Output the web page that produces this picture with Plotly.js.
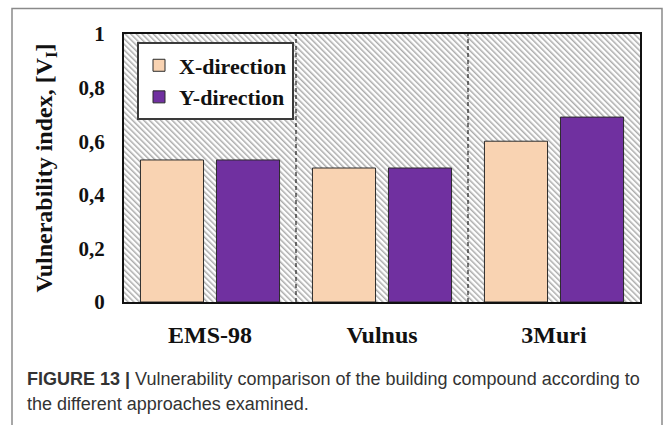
<!DOCTYPE html>
<html>
<head>
<meta charset="utf-8">
<script src="https://cdn.plot.ly/plotly-3.0.1.min.js"></script>
<style>
html,body{margin:0;padding:0;background:#fff;}
#chart{width:667px;height:425px;}
</style>
</head>
<body>
<div id="chart"></div>
<script>
// ---- data ----
const categories = ["EMS-98", "Vulnus", "3Muri"];
const xDirection = [0.53, 0.50, 0.60];
const yDirection = [0.53, 0.50, 0.69];
const seriesNames = ["X-direction", "Y-direction"];
const yTickVals = [0, 0.2, 0.4, 0.6, 0.8, 1];
const yTickText = ["0", "0,2", "0,4", "0,6", "0,8", "1"];
const yTitle = "Vulnerability index, [V<sub>I</sub>]";
const captionBold = "FIGURE 13 |";
const captionLine1 = " Vulnerability comparison of the building compound according to";
const captionLine2 = "the different approaches examined.";

// ---- layout geometry ----
const W = 667, H = 425;
const plotL = 124, plotR = 640, plotT = 33.5, plotB = 302.5;
const pw = plotR - plotL, ph = plotB - plotT;
const px = v => (v - plotL) / pw;
const py = v => (plotB - v) / ph;

// hatched background as inline SVG
const hatchSvg =
  '<svg xmlns="http://www.w3.org/2000/svg" width="' + pw + '" height="' + ph + '">' +
  '<defs><pattern id="h" width="4" height="4" patternUnits="userSpaceOnUse" patternTransform="rotate(-45)">' +
  '<rect width="4" height="4" fill="#ffffff"/>' +
  '<rect width="1.5" height="4" fill="#acacac"/></pattern></defs>' +
  '<rect width="100%" height="100%" fill="url(#h)"/></svg>';
const hatchUri = "data:image/svg+xml;base64," + btoa(hatchSvg);

const serif = "Liberation Serif, Times New Roman, serif";
const sans = "Liberation Sans, Arial, sans-serif";

const traces = [
  {
    type: "bar", name: seriesNames[0], x: categories, y: xDirection,
    legendgroup: "a",
    marker: {color: "#f9d3b2", line: {color: "#2a2a2a", width: 1}}
  },
  {
    type: "bar", name: seriesNames[1], x: categories, y: yDirection,
    legendgroup: "b",
    marker: {color: "#7030a0", line: {color: "#2a2a2a", width: 1}}
  }
];

const layout = {
  width: W, height: H,
  margin: {l: plotL, r: W - plotR, t: plotT, b: H - plotB, pad: 0},
  paper_bgcolor: "#ffffff",
  plot_bgcolor: "rgba(0,0,0,0)",
  barmode: "group",
  bargap: 0.116,
  bargroupgap: 0.17,
  showlegend: true,
  legend: {
    x: px(137), y: py(42), xanchor: "left", yanchor: "top",
    bgcolor: "#ffffff", bordercolor: "#3a3a3a", borderwidth: 2,
    font: {family: serif, size: 22, color: "#111", weight: "bold"},
    traceorder: "grouped", tracegroupgap: 0, itemwidth: 30
  },
  xaxis: {
    type: "category",
    range: [-0.5, 2.5],
    showline: true, linecolor: "#111", linewidth: 2, mirror: true,
    showgrid: false, zeroline: false, ticks: "",
    ticklabelstandoff: 10,
    tickfont: {family: serif, size: 24, color: "#111", weight: "bold"},
    fixedrange: true
  },
  yaxis: {
    range: [0, 1],
    tickvals: yTickVals, ticktext: yTickText,
    showline: true, linecolor: "#111", linewidth: 2, mirror: true,
    showgrid: false, zeroline: false, ticks: "",
    ticklabelstandoff: 13,
    tickfont: {family: serif, size: 21, color: "#111", weight: "bold"},
    title: {text: yTitle, standoff: 19, font: {family: serif, size: 24, color: "#111", weight: "bold"}},
    fixedrange: true
  },
  images: [{
    source: hatchUri, xref: "paper", yref: "paper",
    x: 0, y: 1, sizex: 1, sizey: 1, xanchor: "left", yanchor: "top",
    sizing: "stretch", layer: "below"
  }],
  shapes: [
    {type: "line", xref: "x", yref: "paper", x0: 0.5, x1: 0.5, y0: 0, y1: 1,
     line: {color: "#222", width: 1.2, dash: "4px,3px"}, layer: "below"},
    {type: "line", xref: "x", yref: "paper", x0: 1.5, x1: 1.5, y0: 0, y1: 1,
     line: {color: "#222", width: 1.2, dash: "4px,3px"}, layer: "below"},
    {type: "rect", xref: "paper", yref: "paper",
     x0: px(12), x1: px(662), y0: py(470), y1: py(8),
     line: {color: "#8a8a8a", width: 1.5}, fillcolor: "rgba(0,0,0,0)"}
  ],
  annotations: [
    {xref: "paper", yref: "paper", x: px(25), y: py(380), xanchor: "left", yanchor: "middle",
     showarrow: false, align: "left",
     text: "<b>" + captionBold + "</b>" + captionLine1,
     font: {family: sans, size: 18, color: "#333"}},
    {xref: "paper", yref: "paper", x: px(25), y: py(405), xanchor: "left", yanchor: "middle",
     showarrow: false, align: "left",
     text: captionLine2,
     font: {family: sans, size: 18, color: "#333"}}
  ]
};

Plotly.newPlot("chart", traces, layout, {displayModeBar: false, staticPlot: true});
</script>
</body>
</html>
